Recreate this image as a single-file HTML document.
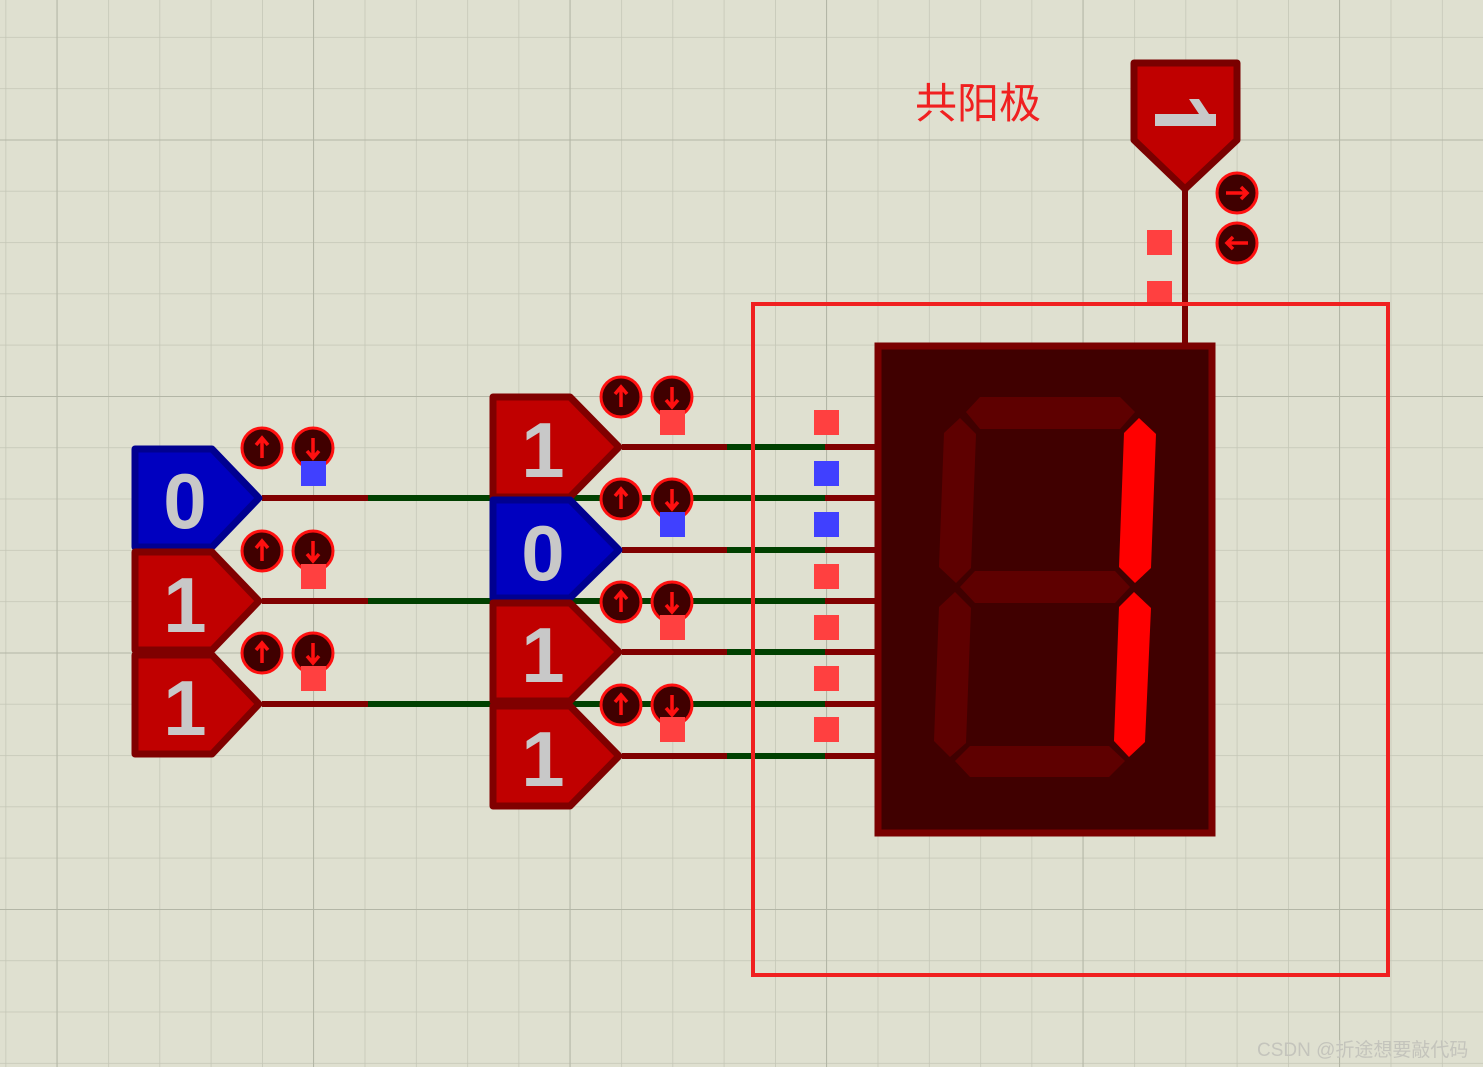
<!DOCTYPE html>
<html><head><meta charset="utf-8"><style>
html,body{margin:0;padding:0}
body{width:1483px;height:1067px;overflow:hidden;background:#dfe0d0}
</style></head><body>
<svg width="1483" height="1067" viewBox="0 0 1483 1067" xmlns="http://www.w3.org/2000/svg" style="position:absolute;left:0;top:0">
<defs>
<pattern id="g" x="5.5" y="36.9" width="51.3" height="51.3" patternUnits="userSpaceOnUse">
<path d="M0 0V51.3M0 0H51.3" stroke="#c4c6b6" stroke-width="1.5" fill="none"/>
</pattern>
<pattern id="G" x="56.5" y="139.5" width="256.5" height="256.5" patternUnits="userSpaceOnUse">
<path d="M0 0V256.5M0 0H256.5" stroke="#b3b6a6" stroke-width="2" fill="none"/>
</pattern>
<g id="up"><circle r="20" fill="#400000" stroke="#ff1010" stroke-width="3"/><path d="M0 10V-9M-6 -3L0 -10L6 -3" stroke="#ff1010" stroke-width="3.5" fill="none"/></g>
<g id="dn"><circle r="20" fill="#400000" stroke="#ff1010" stroke-width="3"/><path d="M0 -10V9M-6 3L0 10L6 3" stroke="#ff1010" stroke-width="3.5" fill="none"/></g>
</defs>
<rect width="1483" height="1067" fill="#dfe0d0"/>
<rect width="1483" height="1067" fill="url(#g)"/>
<rect width="1483" height="1067" fill="url(#G)"/>

<g stroke-width="6" fill="none">
<path d="M262 498H368M262 601H368M262 704H368" stroke="#800000"/>
<path d="M368 498H490M368 601H490M368 704H490" stroke="#004000"/>
<path d="M622 447H727M622 550H727M622 652H727M622 756H727" stroke="#800000"/>
<path d="M490 498H825M490 601H825M490 704H825M727 447H825M727 550H825M727 652H825M727 756H825" stroke="#004000"/>
<path d="M825 447H875M825 498H875M825 550H875M825 601H875M825 652H875M825 704H875M825 756H875" stroke="#800000"/>
<path d="M1185 190V345" stroke="#7a0000"/>
</g>

<g stroke-width="7" stroke-linejoin="round">
<path d="M135 449H212L259 498L212 547H135Z" fill="#0000c0" stroke="#000090"/>
<path d="M135 552H212L259 601L212 650H135Z" fill="#c00000" stroke="#800000"/>
<path d="M135 655H212L259 704L212 754H135Z" fill="#c00000" stroke="#800000"/>
<path d="M493 397H570L619 447L570 497H493Z" fill="#c00000" stroke="#800000"/>
<path d="M493 500H570L619 550L570 598H493Z" fill="#0000c0" stroke="#000090"/>
<path d="M493 603H570L619 652L570 701H493Z" fill="#c00000" stroke="#800000"/>
<path d="M493 706H570L619 756L570 806H493Z" fill="#c00000" stroke="#800000"/>
</g>
<g font-family="Liberation Sans, sans-serif" font-weight="bold" font-size="78" fill="#c8c8c8" text-anchor="middle">
<text x="185" y="528">0</text>
<text x="185" y="632">1</text>
<text x="185" y="735">1</text>
<text x="543" y="477">1</text>
<text x="543" y="580">0</text>
<text x="543" y="682">1</text>
<text x="543" y="786">1</text>
</g>

<use href="#up" x="262" y="448"/><use href="#dn" x="313" y="448"/>
<use href="#up" x="262" y="551"/><use href="#dn" x="313" y="551"/>
<use href="#up" x="262" y="653"/><use href="#dn" x="313" y="653"/>
<use href="#up" x="621" y="397"/><use href="#dn" x="672" y="397"/>
<use href="#up" x="621" y="499"/><use href="#dn" x="672" y="499"/>
<use href="#up" x="621" y="602"/><use href="#dn" x="672" y="602"/>
<use href="#up" x="621" y="705"/><use href="#dn" x="672" y="705"/>

<g>
<rect x="301" y="461" width="25" height="25" fill="#4040ff"/>
<rect x="301" y="564" width="25" height="25" fill="#ff4040"/>
<rect x="301" y="666" width="25" height="25" fill="#ff4040"/>
<rect x="660" y="410" width="25" height="25" fill="#ff4040"/>
<rect x="660" y="512" width="25" height="25" fill="#4040ff"/>
<rect x="660" y="615" width="25" height="25" fill="#ff4040"/>
<rect x="660" y="717" width="25" height="25" fill="#ff4040"/>
<rect x="814" y="410" width="25" height="25" fill="#ff4040"/>
<rect x="814" y="461" width="25" height="25" fill="#4040ff"/>
<rect x="814" y="512" width="25" height="25" fill="#4040ff"/>
<rect x="814" y="564" width="25" height="25" fill="#ff4040"/>
<rect x="814" y="615" width="25" height="25" fill="#ff4040"/>
<rect x="814" y="666" width="25" height="25" fill="#ff4040"/>
<rect x="814" y="717" width="25" height="25" fill="#ff4040"/>
<rect x="1147" y="230" width="25" height="25" fill="#ff4040"/>
<rect x="1147" y="281" width="25" height="25" fill="#ff4040"/>
</g>

<rect x="753" y="304" width="635" height="671" fill="none" stroke="#f02020" stroke-width="4"/>

<rect x="878" y="346" width="334" height="487" fill="#400000" stroke="#7a0000" stroke-width="7"/>
<g fill="#5e0000">
<polygon points="966,412 980,397 1120,397 1135,412 1120,429 980,429"/>
<polygon points="960,587 975,571 1115,571 1130,587 1115,603 975,603"/>
<polygon points="955,761 970,746 1109,746 1125,761 1109,777 970,777"/>
<polygon points="944,433 960,418 976,434 971,568 956,583 939,567"/>
<polygon points="939,607 955,592 971,608 966,743 950,757 934,741"/>
</g>
<g fill="#ff0000">
<polygon points="1124,433 1139,418 1156,434 1151,568 1135,583 1119,567"/>
<polygon points="1119,607 1134,592 1151,608 1145,742 1129,757 1114,741"/>
</g>

<path d="M1134 63H1237V140L1185 189L1134 140Z" fill="#c00000" stroke="#7a0000" stroke-width="7" stroke-linejoin="round"/>
<path d="M1155 114H1216V126H1155Z M1189 99H1199L1209 114H1199Z" fill="#c8c8c8"/>
<g>
<circle cx="1237" cy="193" r="20" fill="#400000" stroke="#ff1010" stroke-width="3"/>
<path d="M1226 193H1247M1241 187L1247 193L1241 199" stroke="#ff1010" stroke-width="3.5" fill="none"/>
<circle cx="1237" cy="243" r="20" fill="#400000" stroke="#ff1010" stroke-width="3"/>
<path d="M1248 243H1227M1233 237L1227 243L1233 249" stroke="#ff1010" stroke-width="3.5" fill="none"/>
</g>

<text x="915" y="118" font-family="Liberation Sans, Noto Sans CJK SC, sans-serif" font-size="42" fill="#f02020">共阳极</text>
<text x="1257" y="1056" font-family="Liberation Sans, Noto Sans CJK SC, sans-serif" font-size="19" fill="#c4c4bc">CSDN @折途想要敲代码</text>
</svg>
</body></html>
